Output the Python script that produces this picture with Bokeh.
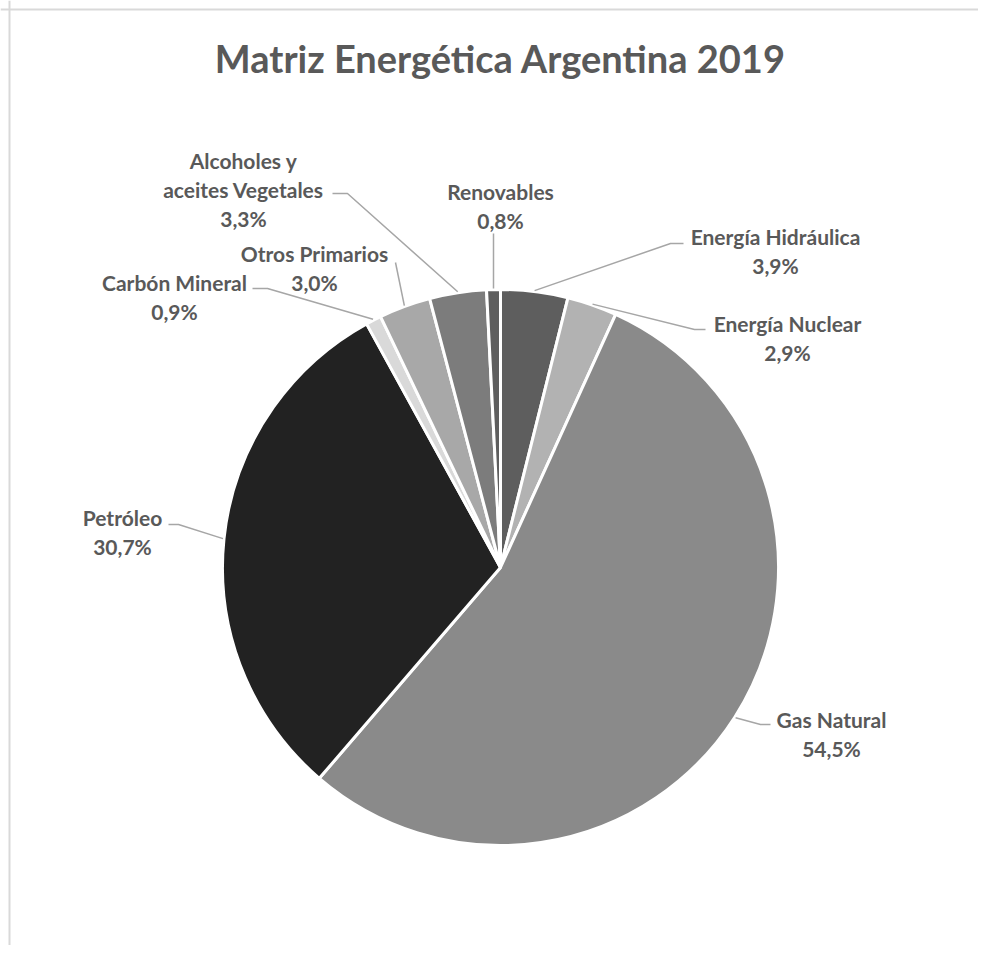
import math
from bokeh.plotting import figure
from bokeh.models import Span, Range1d, ColumnDataSource
from bokeh.embed import file_html
from bokeh.resources import INLINE
from bokeh.core.properties import value

# ---------------- data ----------------
categories = ["Energía Hidráulica", "Energía Nuclear", "Gas Natural", "Petróleo",
              "Carbón Mineral", "Otros Primarios", "Alcoholes y aceites Vegetales", "Renovables"]
shares = [3.9, 2.9, 54.5, 30.7, 0.9, 3.0, 3.3, 0.8]
colors = ["#5e5e5e", "#b2b2b2", "#8a8a8a", "#222222",
          "#d9d9d9", "#a8a8a8", "#7c7c7c", "#5e5e5e"]
label_names = [["Energía Hidráulica"], ["Energía Nuclear"], ["Gas Natural"], ["Petróleo"],
               ["Carbón Mineral"], ["Otros Primarios"], ["Alcoholes y", "aceites Vegetales"],
               ["Renovables"]]
title_text = "Matriz Energética Argentina 2019"

# ---------------- layout (page pixel coords) ----------------
W, H = 978, 945
def Y(py):
    return H - py

CX, CY, R = 500, 567, 278
# label center (x, y of first line) and leader elbow points
label_pos = {
    "Energía Hidráulica": (775, 236),
    "Energía Nuclear": (787, 323),
    "Gas Natural": (831, 719),
    "Petróleo": (122, 517),
    "Carbón Mineral": (174, 282),
    "Otros Primarios": (314, 253),
    "Alcoholes y aceites Vegetales": (243, 160),
    "Renovables": (500, 191),
}
leader_pts = {
    "Energía Hidráulica": [(670, 243), (683, 243)],
    "Energía Nuclear": [(694, 329), (705, 329)],
    "Gas Natural": [(760, 724), (770, 724)],
    "Petróleo": [(178, 524), (168, 524)],
    "Carbón Mineral": [(267, 288), (252, 288)],
    "Otros Primarios": [(395, 262)],
    "Alcoholes y aceites Vegetales": [(347, 193), (332, 193)],
    "Renovables": [(493, 233)],
}
LINE_H = 29

p = figure(width=W, height=H, output_backend="svg", toolbar_location=None,
           x_range=Range1d(0, W), y_range=Range1d(0, H),
           x_axis_location=None, y_axis_location=None, min_border=0)
p.grid.visible = False
p.outline_line_color = None
p.background_fill_color = "white"

# chart-area border (top and left visible)
p.add_layout(Span(location=Y(9), dimension="width", line_color="#d9d9d9", line_width=2))
p.add_layout(Span(location=9, dimension="height", line_color="#d9d9d9", line_width=2))

# wedges
total = sum(shares)
starts, ends, mids = [], [], []
cum = 0.0
for s in shares:
    a0 = cum / total
    cum += s
    a1 = cum / total
    starts.append(math.pi / 2 - 2 * math.pi * a0)
    ends.append(math.pi / 2 - 2 * math.pi * a1)
    mids.append(math.pi / 2 - 2 * math.pi * (a0 + a1) / 2)

src = ColumnDataSource(dict(start=starts, end=ends, color=colors, cat=categories, share=shares))
p.wedge(x=CX, y=Y(CY), radius=R, start_angle="start", end_angle="end", direction="clock",
        fill_color="color", line_color="white", line_width=3, source=src)

# leader lines
xs, ys = [], []
for cat, m in zip(categories, mids):
    ax = CX + (R + 1) * math.cos(m)
    ay = Y(CY) + (R + 1) * math.sin(m)
    px = [ax] + [pt[0] for pt in leader_pts[cat]]
    py = [ay] + [Y(pt[1]) for pt in leader_pts[cat]]
    xs.append(px)
    ys.append(py)
p.multi_line(xs=xs, ys=ys, line_color="#a6a6a6", line_width=1.5)

# labels
tx, ty, tt = [], [], []
for cat, names, s in zip(categories, label_names, shares):
    lx, ly = label_pos[cat]
    lines = names + [("%.1f" % s).replace(".", ",") + "%"]
    for i, ln in enumerate(lines):
        tx.append(lx)
        ty.append(Y(ly + i * LINE_H))
        tt.append(ln)
p.text(x=tx, y=ty, text=tt, text_font=value("Lato"), text_font_style="bold",
       text_font_size="21px", text_color="#595959", text_align="center", text_baseline="middle")

# title
p.text(x=[500], y=[Y(57)], text=[title_text], text_font=value("Lato"), text_font_style="bold",
       text_font_size="38px", text_color="#595959", text_align="center", text_baseline="middle")

open("out.html", "w").write(file_html(p, INLINE))
